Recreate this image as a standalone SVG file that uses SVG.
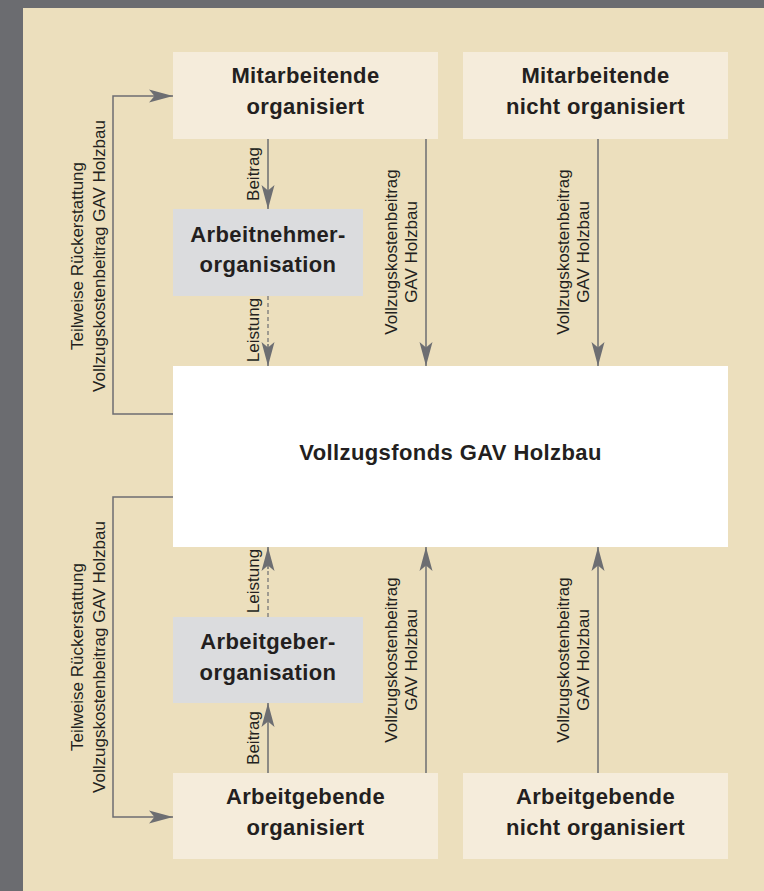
<svg xmlns="http://www.w3.org/2000/svg" width="764" height="891" viewBox="0 0 764 891">
<style>
.bg{fill:#6b6c70}
.paper{fill:#ecdfbd}
.cream{fill:#f5ecdb}
.grey{fill:#dbdcde}
.white{fill:#ffffff}
.t{font-family:"Liberation Sans",Arial,sans-serif;font-weight:bold;font-size:22px;letter-spacing:0.4px;fill:#231f20;text-anchor:middle}
.l{font-family:"Liberation Sans",Arial,sans-serif;font-size:17px;fill:#231f20;text-anchor:middle}
.c{fill:none;stroke:#6d6e72;stroke-width:1.5}
.d{fill:none;stroke:#6d6e72;stroke-width:1.2;stroke-dasharray:4 3}
</style>
<defs>
<marker id="ah" markerUnits="userSpaceOnUse" markerWidth="26" markerHeight="16" viewBox="0 -8 26 16" refX="24" refY="0" orient="auto">
<path d="M0,-6.5 L24,0 L0,6.5 L5.5,0 Z" fill="#6d6e72"/>
</marker>
</defs>
<rect class="bg" x="0" y="0" width="764" height="891"/>
<rect class="paper" x="23" y="8" width="741" height="883"/>

<g id="n-ma-org">
<rect class="cream" x="173" y="52" width="265" height="87"/>
<text class="t" x="305.5" y="83">Mitarbeitende</text>
<text class="t" x="305.5" y="114">organisiert</text>
</g>
<g id="n-ma-nicht">
<rect class="cream" x="463" y="52" width="265" height="87"/>
<text class="t" x="595.5" y="83">Mitarbeitende</text>
<text class="t" x="595.5" y="114">nicht organisiert</text>
</g>
<g id="n-an-org">
<rect class="grey" x="173" y="209" width="190" height="87"/>
<text class="t" x="268" y="242">Arbeitnehmer-</text>
<text class="t" x="268" y="272">organisation</text>
</g>
<g id="n-fonds">
<rect class="white" x="173" y="366" width="555" height="181"/>
<text class="t" x="450.5" y="460">Vollzugsfonds GAV Holzbau</text>
</g>
<g id="n-ag-org">
<rect class="grey" x="173" y="617" width="190" height="86"/>
<text class="t" x="268" y="649">Arbeitgeber-</text>
<text class="t" x="268" y="680">organisation</text>
</g>
<g id="n-ag-orgsiert">
<rect class="cream" x="173" y="773" width="265" height="86"/>
<text class="t" x="305.5" y="804">Arbeitgebende</text>
<text class="t" x="305.5" y="835">organisiert</text>
</g>
<g id="n-ag-nicht">
<rect class="cream" x="463" y="773" width="265" height="86"/>
<text class="t" x="595.5" y="804">Arbeitgebende</text>
<text class="t" x="595.5" y="835">nicht organisiert</text>
</g>

<g id="connectors">
<path class="c" d="M173,414 H113 V96 H173" marker-end="url(#ah)"/>
<path class="c" d="M173,497 H113 V817 H173" marker-end="url(#ah)"/>
<path class="c" d="M268,139 V209" marker-end="url(#ah)"/>
<path class="d" d="M268,296 V344"/>
<path class="c" d="M268,344 V366" marker-end="url(#ah)" stroke-width="0.01"/>
<path class="c" d="M426,139 V366" marker-end="url(#ah)"/>
<path class="c" d="M598,139 V366" marker-end="url(#ah)"/>
<path class="d" d="M268,617 V569"/>
<path class="c" d="M268,569 V547" marker-end="url(#ah)" stroke-width="0.01"/>
<path class="c" d="M268,773 V703" marker-end="url(#ah)"/>
<path class="c" d="M426,773 V547" marker-end="url(#ah)"/>
<path class="c" d="M598,773 V547" marker-end="url(#ah)"/>

<text class="l" transform="translate(83,256) rotate(-90)">Teilweise Rückerstattung</text>
<text class="l" transform="translate(105,256) rotate(-90)">Vollzugskostenbeitrag GAV Holzbau</text>
<text class="l" transform="translate(83,657) rotate(-90)">Teilweise Rückerstattung</text>
<text class="l" transform="translate(105,657) rotate(-90)">Vollzugskostenbeitrag GAV Holzbau</text>
<text class="l" transform="translate(259,174) rotate(-90)">Beitrag</text>
<text class="l" transform="translate(259,330) rotate(-90)">Leistung</text>
<text class="l" transform="translate(259,581) rotate(-90)">Leistung</text>
<text class="l" transform="translate(259,738) rotate(-90)">Beitrag</text>
<text class="l" transform="translate(397,252) rotate(-90)">Vollzugskostenbeitrag</text>
<text class="l" transform="translate(417,252) rotate(-90)">GAV Holzbau</text>
<text class="l" transform="translate(569,252) rotate(-90)">Vollzugskostenbeitrag</text>
<text class="l" transform="translate(589,252) rotate(-90)">GAV Holzbau</text>
<text class="l" transform="translate(397,660) rotate(-90)">Vollzugskostenbeitrag</text>
<text class="l" transform="translate(417,660) rotate(-90)">GAV Holzbau</text>
<text class="l" transform="translate(569,660) rotate(-90)">Vollzugskostenbeitrag</text>
<text class="l" transform="translate(589,660) rotate(-90)">GAV Holzbau</text>
</g>
</svg>
